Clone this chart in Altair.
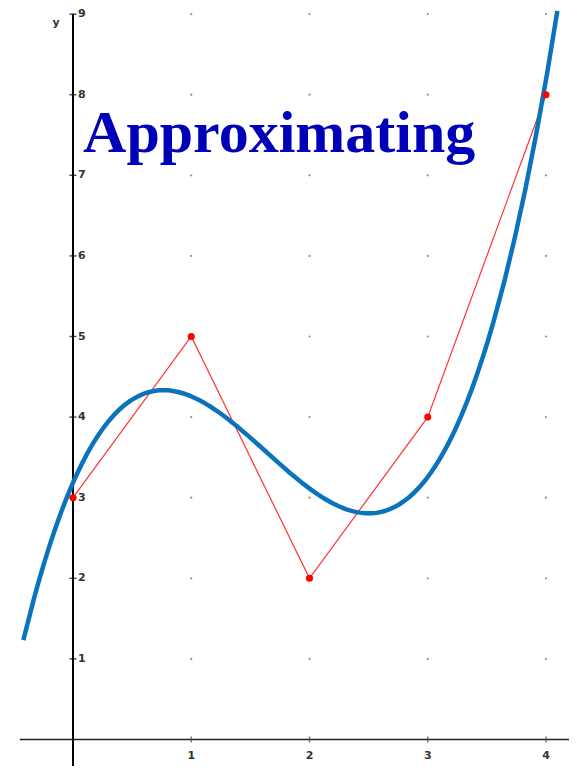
import altair as alt
import pandas as pd

# Control points (red polyline)
pts_x = [0, 1, 2, 3, 4]
pts_y = [3, 5, 2, 4, 8]

# Tick labels / grid
x_ticks = [1, 2, 3, 4]
y_ticks = [1, 2, 3, 4, 5, 6, 7, 8, 9]

title_text = "Approximating"

X_DOM = [-0.5497, 4.1945]
Y_DOM = [-0.329, 9.076]

pts = pd.DataFrame({"x": pts_x, "y": pts_y})
grid = pd.DataFrame([{"x": gx, "y": gy} for gx in x_ticks for gy in y_ticks])
xt = pd.DataFrame({"x": x_ticks, "y": [0] * len(x_ticks), "lab": [str(v) for v in x_ticks]})
yt = pd.DataFrame({"x": [0] * len(y_ticks), "y": y_ticks, "lab": [str(v) for v in y_ticks]})

xs = alt.Scale(domain=X_DOM, nice=False, zero=False)
ys = alt.Scale(domain=Y_DOM, nice=False, zero=False)
X = lambda f="x": alt.X(f"{f}:Q", scale=xs, axis=None)
Y = lambda f="y": alt.Y(f"{f}:Q", scale=ys, axis=None)

dots = alt.Chart(grid).mark_point(filled=True, size=5, color="#777777", opacity=0.8).encode(x=X(), y=Y())

vaxis = alt.Chart(pd.DataFrame({"x": [0], "y": [Y_DOM[0]], "y2": [9]})).mark_rule(
    color="black", strokeWidth=2).encode(x=X(), y=Y(), y2="y2:Q")
haxis = alt.Chart(pd.DataFrame({"x": [-0.45], "x2": [X_DOM[1]], "y": [0]})).mark_rule(
    color="#222222", strokeWidth=1.5).encode(x=X(), x2="x2:Q", y=Y())

ytick = alt.Chart(yt).mark_tick(orient="horizontal", size=7, thickness=1.5, color="black").encode(x=X(), y=Y())
xtick = alt.Chart(xt).mark_tick(orient="vertical", size=6, thickness=1.5, color="#444444").encode(x=X(), y=Y())

ylab = alt.Chart(yt).mark_text(align="left", baseline="middle", dx=5, fontSize=11, fontWeight="bold",
                               font="DejaVu Sans", color="#333333").encode(x=X(), y=Y(), text="lab:N")
xlab = alt.Chart(xt).mark_text(align="center", baseline="middle", dy=17, fontSize=11, fontWeight="bold",
                               font="DejaVu Sans", color="#333333").encode(x=X(), y=Y(), text="lab:N")
yname = alt.Chart(pd.DataFrame({"x": [0], "y": [9], "lab": ["y"]})).mark_text(
    align="center", baseline="middle", dx=-17, dy=9, fontSize=11, fontWeight="bold",
    font="DejaVu Sans", color="#333333").encode(x=X(), y=Y(), text="lab:N")

title = alt.Chart(pd.DataFrame({"x": [0.085], "y": [7.29], "lab": [title_text]})).mark_text(
    align="left", baseline="alphabetic", fontSize=60, fontWeight="bold",
    font="Liberation Serif", color="#0000b8").encode(x=X(), y=Y(), text="lab:N")

red_line = alt.Chart(pts).mark_line(color="#ff3333", strokeWidth=1.2).encode(x=X(), y=Y())
red_pts = alt.Chart(pts).mark_point(filled=True, size=50, color="#ff0000", opacity=1).encode(x=X(), y=Y())

curve = alt.Chart(pts).transform_regression(
    "x", "y", method="poly", order=3, extent=[-0.42, 4.096]
).mark_line(color="#0a73bc", strokeWidth=4.5, clip=True).encode(x=X(), y=Y())

chart = alt.layer(dots, vaxis, haxis, ytick, xtick, ylab, xlab, yname, title, red_line, curve, red_pts).properties(
    width=561, height=758, padding=0, autosize=alt.AutoSizeParams(type="none")
).configure_view(stroke=None)

chart.save("out.html", embed_options={"renderer": "svg", "actions": False})
